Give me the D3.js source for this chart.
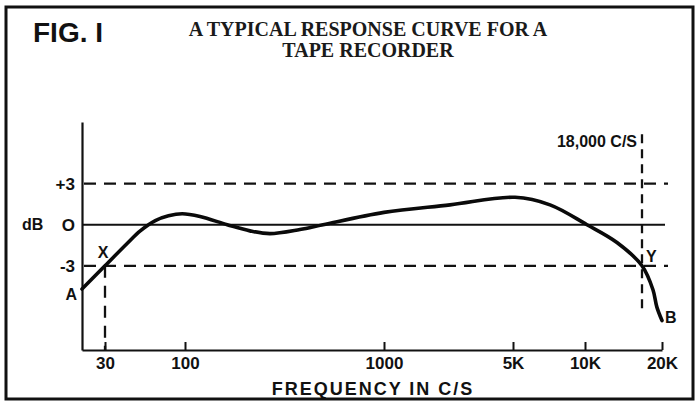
<!DOCTYPE html>
<html>
<head>
<meta charset="utf-8">
<script src="https://cdn.jsdelivr.net/npm/d3@7"></script>
<style>
  html, body { margin: 0; padding: 0; background: #fff; }
  svg { display: block; }
</style>
</head>
<body>
<svg id="chart" width="696" height="401"></svg>
<script>
// ---- data ----
const titleLines = ["A TYPICAL RESPONSE CURVE FOR A", "TAPE RECORDER"];
const figLabel = "FIG. I";
const xAxisTitle = "FREQUENCY IN C/S";
const yAxisTitle = "dB";
// tick values (Hz) and their printed labels
const xTicks = [30, 100, 1000, 5000, 10000, 20000];
const xTickLabels = ["30", "100", "1000", "5K", "10K", "20K"];
const yTicks = [3, 0, -3];
const yTickLabels = ["+3", "O", "-3"];
// response curve: frequency (Hz) and level (dB)
const freq = [20, 30, 42, 51, 64, 78, 96, 119, 163, 212, 267, 378, 494, 1000, 2280, 5100, 7140, 10200, 13900, 18000, 19070, 19460, 20000];
const level = [-4.7, -3.0, -1.35, -0.45, 0.3, 0.65, 0.8, 0.6, 0, -0.45, -0.65, -0.35, 0, 0.9, 1.45, 2.0, 1.45, 0, -1.3, -3.0, -4.75, -6.0, -7.0];
// reference markers
const refLevels = [3, -3];          // dashed horizontal lines
const cutLow = 30, cutHigh = 18000; // dashed verticals (points X and Y)
const cutHighLabel = "18,000 C/S";

// ---- scales ----
// hand-drawn logarithmic frequency axis: piecewise log scale through the printed ticks
const x = d3.scaleLog()
  .domain([20, 30, 100, 1000, 5000, 10000, 18000, 20000])
  .range([82, 105, 185, 384, 513, 585, 642, 662]);
const y = d3.scaleLinear().domain([-9.15, 7.5]).range([350, 122]);

const svg = d3.select("#chart");
const sans = "'Liberation Sans', Arial, sans-serif";
const serif = "'Liberation Serif', 'Times New Roman', serif";

// frame
svg.append("rect").attr("x", 6).attr("y", 7).attr("width", 687).attr("height", 392)
  .attr("fill", "none").attr("stroke", "#111").attr("stroke-width", 3);

// titles
svg.append("text").attr("x", 33).attr("y", 42).text(figLabel)
  .attr("font-family", sans).attr("font-weight", "bold").attr("font-size", 28).attr("fill", "#111");
svg.selectAll("text.title").data(titleLines).join("text").attr("class", "title")
  .attr("x", 368).attr("y", (d, i) => 36 + i * 21).attr("text-anchor", "middle")
  .attr("font-family", serif).attr("font-weight", "bold").attr("font-size", 20).attr("fill", "#1a1a1a")
  .text(d => d);

const xLeft = x.range()[0], xRight = x.range()[x.range().length - 1];

// reference lines
const dash = "12,8";
svg.selectAll("line.ref").data(refLevels).join("line").attr("class", "ref")
  .attr("x1", xLeft + 2).attr("x2", xRight + 6)
  .attr("y1", d => y(d)).attr("y2", d => y(d))
  .attr("stroke", "#111").attr("stroke-width", 2.3).attr("stroke-dasharray", dash);
svg.append("line").attr("x1", xLeft).attr("x2", xRight + 3)
  .attr("y1", y(0)).attr("y2", y(0)).attr("stroke", "#111").attr("stroke-width", 2);
// vertical dashed at X (30 c/s) and Y (18,000 c/s)
svg.append("line").attr("x1", x(cutLow)).attr("x2", x(cutLow))
  .attr("y1", y(-3)).attr("y2", y.range()[0])
  .attr("stroke", "#111").attr("stroke-width", 2.3).attr("stroke-dasharray", dash);
svg.append("line").attr("x1", x(cutHigh)).attr("x2", x(cutHigh))
  .attr("y1", y(6.6)).attr("y2", y(-6.35))
  .attr("stroke", "#111").attr("stroke-width", 2.3).attr("stroke-dasharray", "9,6");

// axes
const gx = svg.append("g").attr("transform", `translate(0,${y.range()[0]})`)
  .call(d3.axisBottom(x).tickValues(xTicks).tickFormat((d, i) => xTickLabels[i])
    .tickSizeInner(-8).tickSizeOuter(0).tickPadding(7));
gx.select(".domain").attr("stroke", "#111").attr("stroke-width", 2.2);
gx.selectAll(".tick line").attr("stroke", "#111").attr("stroke-width", 2);
gx.selectAll("text").attr("font-family", sans).attr("font-weight", "bold").attr("font-size", 17).attr("fill", "#111");

const gy = svg.append("g").attr("transform", `translate(${xLeft},0)`)
  .call(d3.axisLeft(y).tickValues(yTicks).tickFormat((d, i) => yTickLabels[i])
    .tickSize(0).tickPadding(7));
gy.select(".domain").attr("stroke", "#111").attr("stroke-width", 2.2);
gy.selectAll("text").attr("font-family", sans).attr("font-weight", "bold").attr("font-size", 17).attr("fill", "#111");

svg.append("text").attr("x", 22).attr("y", y(0)).attr("dy", "0.35em").text(yAxisTitle)
  .attr("font-family", sans).attr("font-weight", "bold").attr("font-size", 16).attr("fill", "#111");
svg.append("text").attr("x", 373).attr("y", 395).attr("text-anchor", "middle").text(xAxisTitle)
  .attr("font-family", sans).attr("font-weight", "bold").attr("font-size", 18).attr("fill", "#111")
  .attr("letter-spacing", 2);
svg.append("text").attr("x", x(cutHigh) - 5).attr("y", 147).attr("text-anchor", "end").text(cutHighLabel)
  .attr("font-family", sans).attr("font-weight", "bold").attr("font-size", 16).attr("fill", "#111");

// response curve
const pts = freq.map((f, i) => [x(f), y(level[i])]);
svg.append("path").attr("d", d3.line().curve(d3.curveCatmullRom.alpha(0.5))(pts))
  .attr("fill", "none").attr("stroke", "#0a0a0a").attr("stroke-width", 3.6)
  .attr("stroke-linejoin", "round").attr("stroke-linecap", "round");

// point labels
const lab = (t, px, py, anchor) => svg.append("text").attr("x", px).attr("y", py)
  .attr("text-anchor", anchor).text(t)
  .attr("font-family", sans).attr("font-weight", "bold").attr("font-size", 16).attr("fill", "#111");
lab("A", x(freq[0]) - 5, y(level[0]) + 11, "end");
lab("B", x(freq[freq.length - 1]) + 3, y(level[level.length - 1]) + 2, "start");
lab("X", x(cutLow) - 2, y(-3) - 8, "middle");
lab("Y", x(cutHigh) + 4, y(-3) - 4, "start");
</script>
</body>
</html>
